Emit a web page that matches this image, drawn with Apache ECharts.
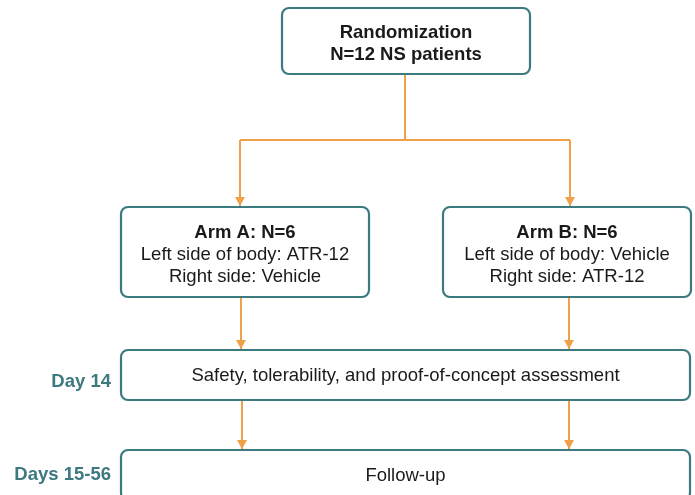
<!DOCTYPE html>
<html>
<head>
<meta charset="utf-8">
<script src="https://cdn.jsdelivr.net/npm/echarts@6/dist/echarts.min.js"></script>
<style>
  html, body { margin: 0; padding: 0; background: #fff; }
  #chart { width: 695px; height: 495px; }
</style>
</head>
<body>
<div id="chart"></div>
<script>
// box contents (first line bold where noted)
var boxTitles = ["Randomization", "Arm A: N=6", "Arm B: N=6", "", ""];
var boxLines = [
  ["N=12 NS patients"],
  ["Left side of body: ATR-12", "Right side: Vehicle"],
  ["Left side of body: Vehicle", "Right side: ATR-12"],
  ["Safety, tolerability, and proof-of-concept assessment"],
  ["Follow-up"]
];
var boxBoldAll = [true, false, false, false, false];
var stageLabels = ["Day 14", "Days 15-56"];

// diagram layout in axis units (x0, y0, x1, y1)
var boxLayout = [
  [282, 8, 530, 74],
  [121, 207, 369, 297],
  [443, 207, 691, 297],
  [121, 350, 690, 400],
  [121, 450, 690, 500]
];
var stageLayout = [[111, 382], [111, 475]];
// connectors: polyline points, arrow at end if flag set
var links = [
  [[[405, 75], [405, 140]], false],
  [[[240, 140], [570, 140]], false],
  [[[240, 140], [240, 206]], true],
  [[[570, 140], [570, 206]], true],
  [[[241, 297], [241, 349]], true],
  [[[569, 297], [569, 349]], true],
  [[[242, 400], [242, 449]], true],
  [[[569, 400], [569, 449]], true]
];

var teal = "#3c7a80";
var orange = "#f0a048";
var font = "'Liberation Sans', Arial, sans-serif";
var fs = 18.5;

var chart = echarts.init(document.getElementById("chart"));

function renderBox(params, api) {
  var i = params.dataIndex;
  var r = boxLayout[i];
  var p0 = api.coord([r[0], r[1]]);
  var p1 = api.coord([r[2], r[3]]);
  var parts = [];
  if (boxTitles[i]) parts.push("{b|" + boxTitles[i] + "}");
  boxLines[i].forEach(function (l) {
    parts.push(boxBoldAll[i] ? "{b|" + l + "}" : "{n|" + l + "}");
  });
  return {
    type: "group",
    children: [{
      type: "rect",
      shape: { x: p0[0], y: p0[1], width: p1[0] - p0[0], height: p1[1] - p0[1], r: 7 },
      style: { fill: "#fff", stroke: teal, lineWidth: 2.2 }
    }, {
      type: "text",
      x: (p0[0] + p1[0]) / 2,
      y: (p0[1] + p1[1]) / 2 + (parts.length > 1 ? 3 : 1),
      style: {
        text: parts.join("\n"),
        align: "center",
        verticalAlign: "middle",
        rich: {
          b: { fontFamily: font, fontSize: fs, fontWeight: "bold", fill: "#1a1a1a", lineHeight: 22, align: "center" },
          n: { fontFamily: font, fontSize: fs, fill: "#1a1a1a", lineHeight: 22, align: "center" }
        }
      }
    }]
  };
}

function renderLink(params, api) {
  var l = links[params.dataIndex];
  var pts = l[0].map(function (p) { return api.coord(p); });
  var children = [{
    type: "polyline",
    shape: { points: pts },
    style: { stroke: orange, lineWidth: 2, fill: null }
  }];
  if (l[1]) {
    var e = pts[pts.length - 1];
    children.push({
      type: "polygon",
      shape: { points: [[e[0] - 5, e[1] - 9], [e[0] + 5, e[1] - 9], [e[0], e[1]]] },
      style: { fill: orange }
    });
  }
  return { type: "group", children: children };
}

function renderStage(params, api) {
  var i = params.dataIndex;
  var p = api.coord(stageLayout[i]);
  return {
    type: "text",
    x: p[0], y: p[1],
    style: {
      text: stageLabels[i],
      align: "right",
      verticalAlign: "middle",
      fontFamily: font,
      fontSize: fs,
      fontWeight: "bold",
      fill: teal
    }
  };
}

chart.setOption({
  backgroundColor: "#fff",
  animation: false,
  grid: { left: 0, right: 0, top: 0, bottom: 0 },
  xAxis: { type: "value", min: 0, max: 695, show: false },
  yAxis: { type: "value", min: 0, max: 495, inverse: true, show: false },
  series: [
    { type: "custom", renderItem: renderLink, data: links.map(function (l) { return l[0][0]; }), clip: false },
    { type: "custom", renderItem: renderBox, data: boxLayout.map(function (r) { return [r[0], r[1]]; }), clip: false },
    { type: "custom", renderItem: renderStage, data: stageLayout, clip: false }
  ]
});
</script>
</body>
</html>
